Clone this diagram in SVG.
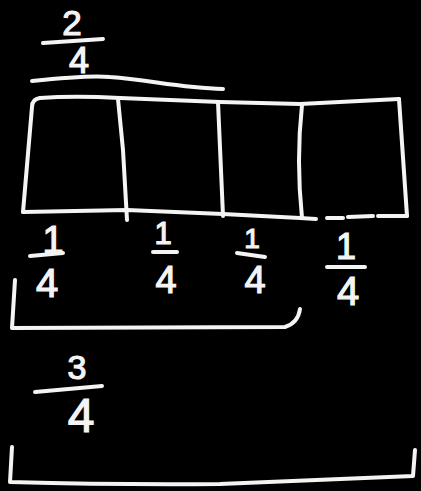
<svg xmlns="http://www.w3.org/2000/svg" width="421" height="491" viewBox="0 0 421 491">
  <style>
    .s { fill: none; stroke: #f4f4f4; stroke-width: 4; stroke-linecap: round; stroke-linejoin: round; }
    .t { fill: #f4f4f4; stroke: #f4f4f4; stroke-width: 1.2; font-family: "Liberation Sans", Arial, sans-serif; text-anchor: middle; }
  </style>
  <rect x="0" y="0" width="421" height="491" fill="#000"/>
  <g id="bar-model">
    <path class="s" d="M40,98 Q32,99 32,107 L23,212"/>
    <path class="s" d="M40,98 C70,96 100,97 120,98 L220,102 L300,104 L399,99"/>
    <path class="s" d="M399,99 L407,216"/>
    <path class="s" d="M23,212 L127,210 L223,214 L300,218 L316,219"/>
    <path class="s" d="M327,218 L343,218 M348,217 L373,216 M378,216 L407,216"/>
    <path class="s" d="M118,99 L123,150 L127,220"/>
    <path class="s" d="M218,102 L223,216"/>
    <path class="s" d="M302,105 Q296,160 302,218"/>
  </g>
  <g id="label-two-quarters">
    <text class="t" x="72" y="35" font-size="35">2</text>
    <path class="s" d="M43,43 L103,39"/>
    <text class="t" x="79" y="73" font-size="36">4</text>
  </g>
  <g id="label-quarter-1">
    <text class="t" x="53" y="253" font-size="38">1</text>
    <path class="s" d="M30,256 L63,253"/>
    <text class="t" x="47" y="297" font-size="40">4</text>
  </g>
  <g id="label-quarter-2">
    <text class="t" x="163" y="244" font-size="31">1</text>
    <path class="s" d="M153,252 L177,252"/>
    <text class="t" x="166" y="293" font-size="38">4</text>
  </g>
  <g id="label-quarter-3">
    <text class="t" x="252" y="248" font-size="28">1</text>
    <path class="s" d="M237,253 L265,257"/>
    <text class="t" x="255" y="293" font-size="38">4</text>
  </g>
  <g id="label-quarter-4">
    <text class="t" x="346" y="259" font-size="36">1</text>
    <path class="s" d="M327,267 L365,267"/>
    <text class="t" x="348" y="305" font-size="40">4</text>
  </g>
  <g id="label-three-quarters">
    <text class="t" x="77" y="379" font-size="34">3</text>
    <path class="s" d="M35,392 L102,386"/>
    <text class="t" x="81" y="432" font-size="48">4</text>
  </g>
  <g id="connectors">
    <path class="s" d="M32,81 C60,78 90,75 110,77 C150,80 180,88 223,89"/>
    <path class="s" d="M15,280 L12,328 L285,327 Q298,323 300,309"/>
    <path class="s" d="M12,447 L10,482 Q120,485 220,484 Q320,480 413,476 L415,450"/>
  </g>
</svg>
